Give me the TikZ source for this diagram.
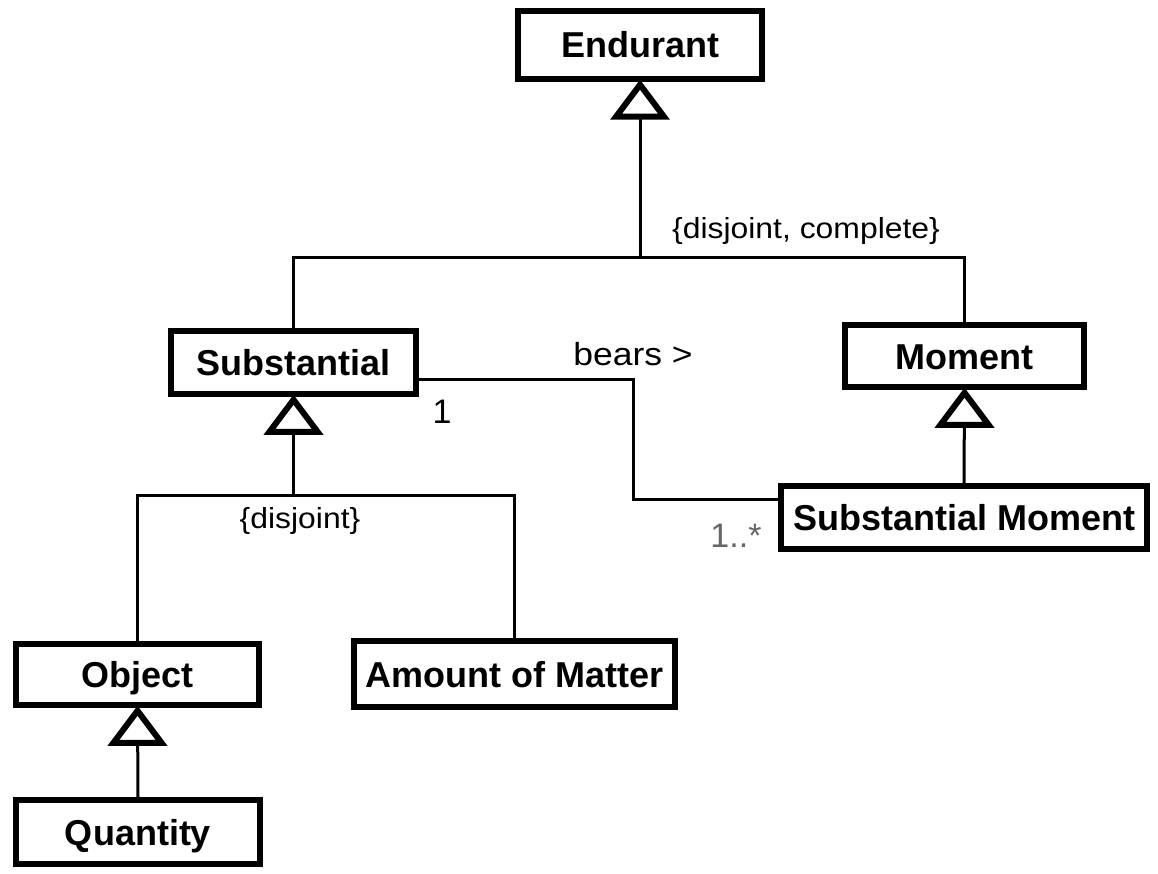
\documentclass[tikz,border=0pt]{standalone}
\usepackage{fontspec}
\usepackage{graphicx}
\setmainfont{Liberation Sans}
\usetikzlibrary{calc}
\begin{document}
\begin{tikzpicture}[x=1pt,y=-1pt,
  cls/.style={draw, line width=5.5pt, rectangle, inner sep=0pt, fill=white,
    font=\fontsize{36}{40}\selectfont\bfseries, text height=26pt, text depth=0pt},
  conn/.style={line width=3pt},
  tri/.style={draw, fill=white, line width=6pt, line join=miter},
  constraint/.style={font=\fontsize{29}{32}\selectfont, inner sep=0pt, anchor=base},
  tagtext/.style={font=\fontsize{32}{36}\selectfont, inner sep=0pt, anchor=base},
  mult/.style={font=\fontsize{34}{38}\selectfont, inner sep=0pt, anchor=base},
]
\useasboundingbox (0,0) rectangle (1158,874);

% hollow generalization triangle hanging under a superclass
\newcommand\genhead[1]{%
  \draw[tri] ($(#1.south)+(0,3)$) -- ++(-24,32) -- ++(48,0) -- cycle;}

% classes
\node[cls, minimum width=244pt, minimum height=68pt] (endurant) at (640,45) {Endurant};
\node[cls, minimum width=245pt, minimum height=63pt] (substantial) at (293.5,362.5) {Substantial};
\node[cls, minimum width=239pt, minimum height=62pt] (moment) at (964.5,356) {Moment};
\node[cls, minimum width=366pt, minimum height=63pt] (submoment) at (964,517.5) {Substantial Moment};
\node[cls, minimum width=243pt, minimum height=61pt] (object) at (137.5,674.5) {Object};
\node[cls, minimum width=321pt, minimum height=66pt] (matter) at (514.5,674) {Amount of Matter};
\node[cls, minimum width=244pt, minimum height=64pt] (quantity) at (138,832) {Quantity};

% generalization set under Endurant
\coordinate (bar1) at (640,258);
\draw[conn] (substantial.north) |- (bar1) -| (moment.north);
\draw[conn] (bar1) -- (endurant.south);
\genhead{endurant}
\node[constraint] (c1) at (806,239) {\scalebox{1.1}[1]{\{disjoint, complete\}}};

% generalization set under Substantial
\coordinate (bar2) at (293.5,495);
\draw[conn] (object.north) |- (bar2) -| (matter.north);
\draw[conn] (bar2) -- (substantial.south);
\genhead{substantial}
\node[constraint] (c2) at (300,528) {\scalebox{1.1}[1]{\{disjoint\}}};

% single generalizations
\draw[conn] (submoment.north) -- (moment.south);
\genhead{moment}
\draw[conn] (quantity.north) -- (object.south);
\genhead{object}

% bears association
\coordinate (b1) at (633,379);
\coordinate (b2) at (633,499);
\draw[conn] (substantial.east |- b1) -- (b1) -- (b2) -- (submoment.west |- b2);
\node[tagtext] (bears) at (633,365) {\scalebox{1.11}[1]{bears >}};
\node[mult] (m1) at (442,423) {1};
\node[mult, text=black!60] (m2) at (736,547) {1..*};
\end{tikzpicture}
\end{document}
